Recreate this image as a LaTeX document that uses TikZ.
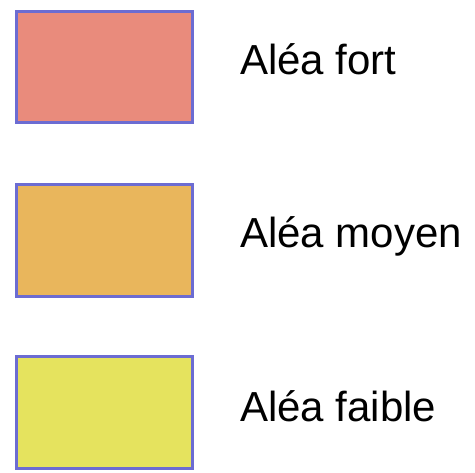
\documentclass[tikz,border=0pt]{standalone}
\usepackage{fontspec}
\setmainfont{Liberation Sans}
\definecolor{fortcol}{HTML}{E98B7C}
\definecolor{moyencol}{HTML}{E9B65C}
\definecolor{faiblecol}{HTML}{E5E35E}
\definecolor{bordcol}{HTML}{6C6CD2}
\begin{document}
\begin{tikzpicture}[x=1pt,y=-1pt]
        \tikzset{legbox/.style={draw=bordcol,line width=2.6pt,minimum width=176pt,minimum height=111.5pt,inner sep=0pt,anchor=north west},
                 legtext/.style={anchor=base west,inner sep=0pt,font=\fontsize{42}{48}\selectfont}}
        \useasboundingbox (0,0) rectangle (475,473);
        \node[legbox,fill=fortcol] (boxfort) at (15,10) {};
        \node[legbox,fill=moyencol] (boxmoyen) at (15,183.5) {};
        \node[legbox,fill=faiblecol] (boxfaible) at (15,355.5) {};
        \node[legtext] (txtfort) at (240,75) {Aléa fort};
        \node[legtext] (txtmoyen) at (240,248) {Aléa moyen};
        \node[legtext] (txtfaible) at (240,422) {Aléa faible};
    \end{tikzpicture}
\end{document}
